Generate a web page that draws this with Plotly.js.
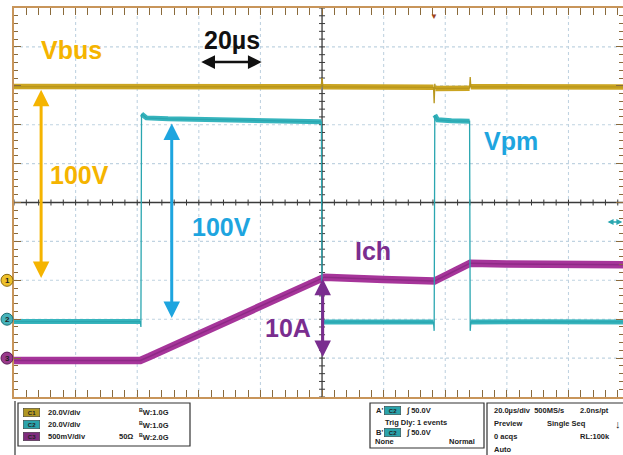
<!DOCTYPE html>
<html><head><meta charset="utf-8">
<script src="https://cdn.plot.ly/plotly-3.0.1.min.js"></script>
<style>html,body{margin:0;padding:0;background:#fff;overflow:hidden}#chart{width:623px;height:455px}</style>
</head><body><div id="chart"></div><script>
// ---- data (time in µs, 20 µs/div, trigger at 0) ----
const tVbus = [-100, -60, -20, -0.3, 0, 0.3, 20, 36.2, 36.4, 36.6, 36.8, 40, 47.9, 48.1, 48.3, 70, 97.7];
const vbus  = [99.6, 99.4, 99.5, 99.5, 104, 99.5, 99.3, 99.2, 91, 101, 98.6, 98.6, 98.8, 104.5, 99.5, 99.4, 99.4];

const tVpm = [-100, -59.0, -58.8, -58.6, -57, -50, -30, -10, -0.2, 0, 0.4, 10, 30, 36.2, 36.4, 36.6, 37.5, 42, 47.9, 48.1, 48.3, 49, 70, 97.7];
const vpm  = [-1.2, -1.2, -4, 105.5, 103.5, 103, 102.5, 101.8, 101.5, -2, -1.5, -1.4, -1.5, -1.5, -6, 105, 102.5, 102, 101.8, -6, -1.5, -1.4, -1.3, -1.4];

const tIch = [-100, -80, -59, -56, -40, -20, 0, 0.8, 20, 36.5, 38, 46.5, 48.1, 60, 80, 97.7];
const ich  = [-0.3, -0.3, -0.3, 0.2, 3.1, 6.7, 10.3, 10.4, 10.1, 9.9, 10.2, 11.9, 12.2, 12.1, 12.0, 12.0];

const leftPanel = [
  ["C1", "20.0V/div", "", "1.0G"],
  ["C2", "20.0V/div", "", "1.0G"],
  ["C3", "500mV/div", "50Ω", "2.0G"]
];
// --------------------------------------------------

const F = 'Liberation Sans, Arial, sans-serif';
const L = 14, T = 8, W = 609, H = 389;
const px = X => (X - L) / W;
const py = Y => (T + H - Y) / H;

// thick band for the level segments; fast edges stay thin
function thick(t, v, minDt) {
  const X = [], Y = [];
  for (let i = 0; i < t.length - 1; i++) {
    if (t[i + 1] - t[i] >= minDt) {
      if (X.length && X[X.length - 1] === t[i]) { X.push(t[i + 1]); Y.push(v[i + 1]); }
      else { if (X.length) { X.push(null); Y.push(null); } X.push(t[i], t[i + 1]); Y.push(v[i], v[i + 1]); }
    }
  }
  return { X, Y };
}
const vbT = thick(tVbus, vbus, 0.5);
const vpT = thick(tVpm, vpm, 0.5);

const cIch = '#a6359a', cVbus = '#cba522', cVpm = '#36b4bd';

const traces = [
  { x: tIch, y: ich, yaxis: 'y2', mode: 'lines', line: { color: cIch, width: 7.5 }, hoverinfo: 'skip' },
  { x: tIch, y: ich, yaxis: 'y2', mode: 'lines', line: { color: '#8e2a86', width: 1.5 }, hoverinfo: 'skip' },
  { x: vbT.X, y: vbT.Y, yaxis: 'y3', mode: 'lines', line: { color: cVbus, width: 5.5 }, hoverinfo: 'skip' },
  { x: tVbus, y: vbus, yaxis: 'y3', mode: 'lines', line: { color: '#b8961c', width: 1.3 }, hoverinfo: 'skip' },
  { x: vpT.X, y: vpT.Y, yaxis: 'y4', mode: 'lines', line: { color: cVpm, width: 5 }, hoverinfo: 'skip' },
  { x: tVpm, y: vpm, yaxis: 'y4', mode: 'lines', line: { color: '#2aa6b0', width: 1.3 }, hoverinfo: 'skip' }
];

const shapes = [];
const gridc = '#c0d3e1';
// dotted graticule
for (let k = -4; k <= 4; k++) {
  if (k === 0) continue;
  shapes.push({ type: 'line', xref: 'x', yref: 'paper', x0: k * 20, x1: k * 20, y0: 0, y1: 1, line: { color: gridc, width: 1.1, dash: 'dot' }, layer: 'below' });
}
for (let k = -4; k <= 4; k++) {
  if (k === 0) continue;
  shapes.push({ type: 'line', xref: 'paper', yref: 'y', x0: 0, x1: 1, y0: k, y1: k, line: { color: gridc, width: 1.1, dash: 'dot' }, layer: 'below' });
}
// centre crosshair
shapes.push({ type: 'line', xref: 'x', yref: 'paper', x0: 0, x1: 0, y0: 0, y1: 1, line: { color: '#3a3a3a', width: 1.3 }, layer: 'below' });
shapes.push({ type: 'line', xref: 'paper', yref: 'y', x0: 0, x1: 1, y0: 0, y1: 0, line: { color: '#3a3a3a', width: 1.3 }, layer: 'below' });
for (let k = -25; k <= 24; k++) {
  const xv = k * 4;
  shapes.push({ type: 'line', xref: 'x', yref: 'y', ysizemode: 'pixel', yanchor: 0, x0: xv, x1: xv, y0: -3, y1: 3, line: { color: '#3a3a3a', width: 1 }, layer: 'below' });
}
for (let k = -25; k <= 25; k++) {
  const yv = k * 0.2;
  shapes.push({ type: 'line', xref: 'x', yref: 'y', xsizemode: 'pixel', xanchor: 0, y0: yv, y1: yv, x0: -3, x1: 3, line: { color: '#3a3a3a', width: 1 }, layer: 'below' });
}
// ground markers
const gm = [[-2, '#efc12a', '#8a6a10'], [-3, '#45b3bb', '#1f6f75'], [-4, '#9a3a8c', '#5a1a55']];
gm.forEach(g => shapes.push({ type: 'circle', xref: 'paper', yref: 'y', xsizemode: 'pixel', ysizemode: 'pixel', xanchor: 0, yanchor: g[0], x0: -13, x1: -1, y0: -6, y1: 6, fillcolor: g[1], line: { color: g[2], width: 1 } }));

// bottom info panel boxes
const box = (x0, y0, x1, y1) => shapes.push({ type: 'rect', xref: 'paper', yref: 'paper', x0: px(x0), x1: px(x1), y0: py(y0), y1: py(y1), line: { color: '#333', width: 1.2 } });
box(18, 403, 190, 446);
box(370, 403, 484, 448);
box(487, 403, 640, 470);
shapes.push({ type: 'line', xref: 'paper', yref: 'paper', x0: px(15), x1: px(15), y0: py(401), y1: py(460), line: { color: '#333', width: 1.2 } });

const ann = [];
function label(text, x, y, color, size) {
  ann.push({ text: '<b>' + text + '</b>', x, y, xref: 'x', yref: 'y', showarrow: false, font: { family: F, size, color } });
}
function dbl(x0, y0, x1, y1, color, w, s) {
  ann.push({ x: x1, y: y1, ax: x0, ay: y0, xref: 'x', yref: 'y', axref: 'x', ayref: 'y', text: '', showarrow: true,
    arrowhead: 2, startarrowhead: 2, arrowside: 'end+start', arrowsize: s, startarrowsize: s, arrowwidth: w, arrowcolor: color, standoff: 0, startstandoff: 0 });
}
const cY = '#f5b400', cB = '#1ea5df', cP = '#7a2d8f';
label('Vbus', -81.2, 3.92, cY, 25);
label('20µs', -29.3, 4.18, '#111', 25);
label('100V', -78.6, 0.71, cY, 25);
label('100V', -32.6, -0.63, cB, 25);
label('Vpm', 61.4, 1.58, cB, 25);
label('Ich', 16.4, -1.25, cP, 25);
label('10A', -10.9, -3.23, cP, 25);
dbl(-39.7, 3.61, -19.6, 3.61, '#111', 2.5, 1.1);
dbl(-91.2, 2.94, -91.2, -1.94, cY, 3, 1.1);
dbl(-48.8, 2.07, -48.8, -2.97, cB, 3, 1.1);
dbl(0.2, -1.92, 0.2, -3.97, cP, 3, 1.1);
dbl(92.2, -0.5, 97.5, -0.5, '#2aa6b0', 1.5, 0.8);

// ground marker numbers
['1', '2', '3'].forEach((n, i) => ann.push({ text: '<b>' + n + '</b>', xref: 'paper', yref: 'y', x: px(7), y: gm[i][0], xanchor: 'center', yanchor: 'middle', showarrow: false, font: { family: F, size: 8, color: '#222' } }));
// trigger marker
ann.push({ text: '▼', xref: 'x', yref: 'paper', x: 36.5, y: 1, yanchor: 'top', showarrow: false, font: { size: 8, color: '#a0441c' } });

// panel text
const pt = (text, X, Y, opts = {}) => ann.push(Object.assign({ text, xref: 'paper', yref: 'paper', x: px(X), y: py(Y), xanchor: 'left', yanchor: 'middle', showarrow: false, font: { family: F, size: 7.5, color: '#222' } }, opts));
const badge = (text, X, Y, bg) => pt('<b>' + text + '</b>', X, Y, { bgcolor: bg, borderpad: 1, bordercolor: '#333', borderwidth: 0.5, font: { family: F, size: 6, color: '#222' } });
const bc = ['#b09722', '#2aa3ab', '#7e2b7d'];
leftPanel.forEach((r, i) => {
  const Y = 412 + i * 12.5;
  badge('&nbsp;&nbsp;' + r[0] + '&nbsp;&nbsp;', 23, Y, bc[i]);
  pt('<b>' + r[1] + '</b>', 46, Y);
  if (r[2]) pt('<b>' + r[2] + '</b>', 117, Y);
  pt('<b><sup>B</sup>W:' + r[3] + '</b>', 137, Y);
});
pt('<b>A\'</b>', 374, 411);
badge('&nbsp;&nbsp;C2&nbsp;&nbsp;', 384, 411, '#2aa3ab');
pt('<b>∫ 50.0V</b>', 404, 411);
pt('<b>Trig Dly: 1 events</b>', 383, 422);
pt('<b>B\'</b>', 374, 432);
badge('&nbsp;&nbsp;C2&nbsp;&nbsp;', 384, 432, '#2aa3ab');
pt('<b>∫ 50.0V</b>', 404, 432);
pt('<b>None</b>', 373, 442);
pt('<b>Normal</b>', 447, 442);
pt('<b>20.0µs/div&nbsp;&nbsp;500MS/s</b>', 492, 410);
pt('<b>2.0ns/pt</b>', 578, 410);
pt('<b>Preview</b>', 492, 424);
pt('<b>Single Seq</b>', 545, 424);
pt('<b>↓</b>', 613, 424, { font: { family: F, size: 11, color: '#222' } });
pt('<b>0 acqs</b>', 492, 437);
pt('<b>RL:100k</b>', 578, 437);
pt('<b>Auto</b>', 492, 450);

const border = '#c8955a', tickc = '#8a6a3c';
const layout = {
  width: 623, height: 455,
  margin: { l: L, r: 0, t: T, b: 455 - T - H, pad: 0 },
  paper_bgcolor: '#fff', plot_bgcolor: '#fff',
  showlegend: false,
  xaxis: {
    range: [-100, 97.7], tick0: 0, dtick: 20, showticklabels: false, showgrid: false,
    zeroline: false, showline: true, linecolor: border, linewidth: 2, mirror: 'allticks',
    ticks: 'inside', ticklen: 7, tickcolor: tickc, tickwidth: 1,
    minor: { dtick: 4, tick0: 0, ticks: 'inside', ticklen: 4, tickcolor: tickc, showgrid: false }
  },
  yaxis: {
    range: [-5, 5], tick0: 0, dtick: 1, showticklabels: false, showgrid: false,
    zeroline: false, showline: true, linecolor: border, linewidth: 2, mirror: 'allticks',
    ticks: 'inside', ticklen: 7, tickcolor: tickc, tickwidth: 1,
    minor: { dtick: 0.2, tick0: 0, ticks: 'inside', ticklen: 4, tickcolor: tickc, showgrid: false }
  },
  yaxis2: { overlaying: 'y', range: [-5, 45], visible: false },
  yaxis3: { overlaying: 'y', range: [-60, 140], visible: false },
  yaxis4: { overlaying: 'y', range: [-40, 160], visible: false },
  shapes, annotations: ann
};
Plotly.newPlot('chart', traces, layout, { staticPlot: true, displayModeBar: false });
</script></body></html>
